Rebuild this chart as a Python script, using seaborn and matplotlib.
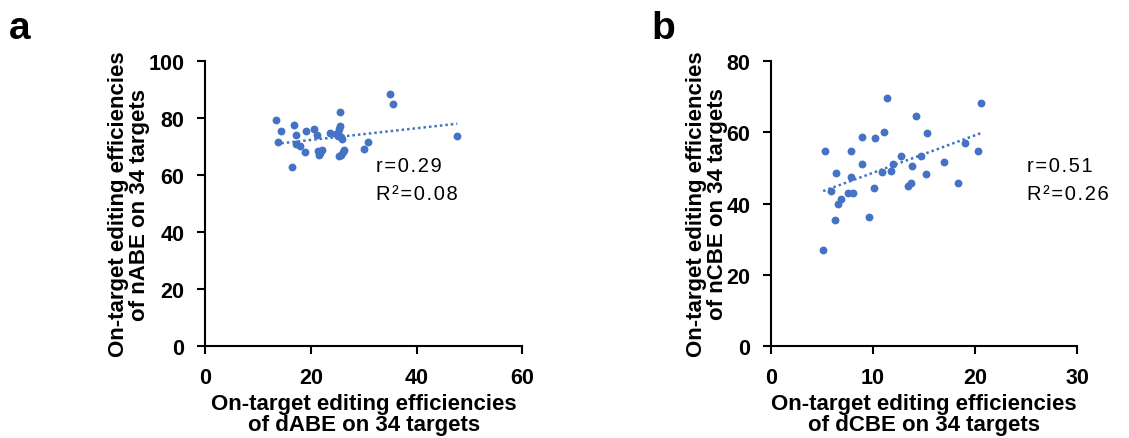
import numpy as np
import seaborn as sns
import matplotlib.pyplot as plt

# Panel a: dABE (x) vs nABE (y), 34 targets
dabe = [13.4, 14.4, 13.8, 16.8, 16.4, 17.3, 17.3, 18.0, 18.9, 19.1,
        20.6, 21.1, 21.4, 21.6, 22.1, 23.6, 24.8, 25.1, 25.4, 25.6,
        25.6, 25.7, 25.9, 25.3, 25.7, 26.1, 26.3, 30.1, 30.9, 34.9,
        35.6, 47.7, 25.2, 21.7]
nabe = [79.2, 75.4, 71.5, 77.6, 62.7, 73.9, 71.0, 70.1, 68.1, 75.4,
        76.0, 73.9, 68.3, 67.2, 68.7, 74.8, 74.4, 73.6, 76.0, 77.1,
        82.1, 73.4, 72.5, 66.6, 67.2, 68.0, 68.7, 69.3, 71.5, 88.6,
        84.8, 73.6, 74.8, 67.8]

# Panel b: dCBE (x) vs nCBE (y), 34 targets
dcbe = [5.26, 5.10, 5.85, 6.41, 6.27, 6.57, 6.90, 7.55, 7.88, 7.88,
        8.04, 8.89, 8.89, 9.61, 10.07, 10.23, 10.92, 11.08, 11.41, 11.80,
        11.96, 12.71, 13.43, 13.69, 13.86, 14.18, 14.74, 15.16, 15.33, 16.93,
        18.37, 18.99, 20.26, 20.59]
ncbe = [54.7, 26.9, 43.4, 48.5, 35.4, 39.8, 41.2, 42.9, 54.7, 47.5,
        42.9, 58.7, 51.1, 36.3, 44.3, 58.4, 48.9, 60.0, 69.6, 49.2,
        51.1, 53.4, 44.8, 45.7, 50.6, 64.6, 53.4, 48.4, 59.7, 51.6,
        45.7, 56.9, 54.7, 68.1]

stats_a = ["r=0.29", "R\u00b2=0.08"]
stats_b = ["r=0.51", "R\u00b2=0.26"]

sns.set_style("ticks")
plt.rcParams['font.family'] = ['Liberation Sans', 'DejaVu Sans']
plt.rcParams.update({'text.color': 'black', 'axes.labelcolor': 'black',
                     'xtick.color': 'black', 'ytick.color': 'black'})

blue = "#4472C4"
fig = plt.figure(figsize=(11.29, 4.39), dpi=100)
ax_a = fig.add_axes([0.1816, 0.2096, 0.281, 0.649])
ax_b = fig.add_axes([0.683, 0.2096, 0.271, 0.649])


def spaced(s):
    # widen letter spacing like the original annotation
    return "\u200a".join(s)


def draw_panel(ax, x, y, xlim, xticks, ylim, yticks, xlabel, ylabel, stats, txt_x):
    sns.regplot(x=np.array(x), y=np.array(y), ax=ax, ci=None, color=blue,
                scatter_kws={'s': 32, 'alpha': 1, 'linewidths': 0},
                line_kws={'linestyle': (0, (1, 1.2)), 'linewidth': 1.8})
    ax.set_xlim(*xlim)
    ax.set_ylim(*ylim)
    ax.set_xticks(xticks)
    ax.set_yticks(yticks)
    ax.tick_params(labelsize=15.5, width=1.5, length=6, direction='out', pad=9)
    for lab in ax.get_xticklabels() + ax.get_yticklabels():
        lab.set_fontweight('bold')
    ax.set_xlabel(xlabel, fontsize=16, fontweight='bold', linespacing=0.95, labelpad=4)
    ax.set_ylabel(ylabel, fontsize=16, fontweight='bold', linespacing=0.95, labelpad=-1)
    sns.despine(ax=ax)
    for s in ['left', 'bottom']:
        ax.spines[s].set_linewidth(1.5)
        ax.spines[s].set_color('black')
    ax.text(txt_x, 0.635, spaced(stats[0]), transform=ax.transAxes, fontsize=14.5, va='center')
    ax.text(txt_x, 0.535, spaced(stats[1]), transform=ax.transAxes, fontsize=14.5, va='center')


draw_panel(ax_a, dabe, nabe, (0, 60), [0, 20, 40, 60], (0, 100), [0, 20, 40, 60, 80, 100],
           "On-target editing efficiencies\nof dABE on 34 targets",
           "On-target editing efficiencies\nof nABE on 34 targets",
           stats_a, 0.54)
draw_panel(ax_b, dcbe, ncbe, (0, 30), [0, 10, 20, 30], (0, 80), [0, 20, 40, 60, 80],
           "On-target editing efficiencies\nof dCBE on 34 targets",
           "On-target editing efficiencies\nof nCBE on 34 targets",
           stats_b, 0.835)

fig.text(0.008, 0.935, "a", fontsize=28, fontweight='bold', va='center')
fig.text(0.577, 0.935, "b", fontsize=28, fontweight='bold', va='center')

fig.savefig("out.png", dpi=100)
